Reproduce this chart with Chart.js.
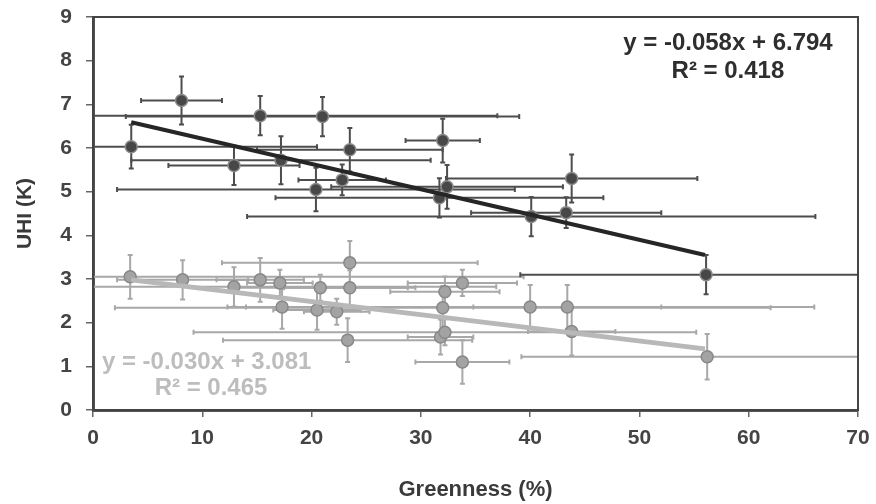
<!DOCTYPE html>
<html lang="en">
<head>
    <meta charset="UTF-8">
    <title>UHI vs Greenness</title>
    <script src="https://cdn.jsdelivr.net/npm/chart.js"></script>
    <style>
        body {
            margin: 0;
            background-color: #ffffff;
        }
        #wrap {
            width: 876px;
            height: 504px;
        }
    </style>
</head>
<body>
    <div id="wrap"><canvas id="uhiChart" width="876" height="504"></canvas></div>

    <script>
        // dark series (upper cluster)
        const darkX    = [3.5, 8.1, 15.3, 21.0, 12.9, 17.2, 23.5, 32.0, 32.4, 20.4, 22.8, 31.7, 43.8, 43.3, 40.1, 56.1];
        const darkY    = [6.03, 7.09, 6.74, 6.72, 5.60, 5.72, 5.96, 6.17, 5.11, 5.05, 5.27, 4.86, 5.30, 4.52, 4.43, 3.10];
        const darkXErr = [17, 3.7, 21.7, 18, 6, 13.7, 8.5, 3.4, 10.6, 18.2, 4, 15, 11.5, 8.7, 26, 17];
        const darkYErr = [0.5, 0.55, 0.45, 0.45, 0.45, 0.55, 0.5, 0.5, 0.5, 0.5, 0.35, 0.45, 0.55, 0.35, 0.45, 0.45];

        // light series (lower cluster)
        const lightX    = [3.4, 8.2, 12.9, 15.3, 17.1, 20.8, 23.5, 23.5, 33.8, 32.2, 17.3, 20.5, 22.3, 23.3, 32.0, 31.8, 32.2, 33.8, 40.0, 43.4, 43.8, 56.2];
        const lightY    = [3.05, 2.98, 2.82, 2.98, 2.91, 2.80, 3.37, 2.80, 2.91, 2.71, 2.36, 2.29, 2.25, 1.60, 2.34, 1.67, 1.78, 1.10, 2.36, 2.36, 1.80, 1.22];
        const lightXErr = [36, 6, 24, 4, 3, 8, 11.7, 6, 5, 5, 5, 4, 3, 11.4, 30, 3, 23, 4.3, 26, 8.6, 4, 17];
        const lightYErr = [0.5, 0.45, 0.45, 0.5, 0.3, 0.3, 0.5, 0.4, 0.3, 0.35, 0.5, 0.45, 0.3, 0.5, 0.5, 0.4, 0.3, 0.5, 0.5, 0.5, 0.55, 0.52];

        // trend lines
        const darkTrendX  = [3.5, 56];
        const darkTrendY  = [6.59, 3.55];
        const lightTrendX = [3.5, 56];
        const lightTrendY = [2.98, 1.40];

        const xTicks = [0, 10, 20, 30, 40, 50, 60, 70];
        const yTicks = [0, 1, 2, 3, 4, 5, 6, 7, 8, 9];

        // equation labels: text, x, y (data units)
        const darkLabels  = [['y = -0.058x + 6.794', 58.1, 8.39], ['R\u00b2 = 0.418', 58.1, 7.75]];
        const lightLabels = [['y = -0.030x + 3.081', 10.4, 1.10], ['R\u00b2 = 0.465', 10.8, 0.50]];

        const FONT = '"Liberation Sans", Arial, sans-serif';

        function toPoints(xs, ys) {
            return xs.map((x, i) => ({ x: x, y: ys[i] }));
        }

        // error bars drawn under the points, through the chart scales
        const errorBars = {
            id: 'errorBars',
            beforeDatasetsDraw(chart) {
                const { ctx, chartArea, scales } = chart;
                const xs = scales.x, ys = scales.y;
                ctx.save();
                ctx.beginPath();
                ctx.rect(chartArea.left, chartArea.top, chartArea.width, chartArea.height);
                ctx.clip();
                const draw = (X, Y, XE, YE, color) => {
                    ctx.strokeStyle = color;
                    ctx.lineWidth = 2;
                    X.forEach((x, i) => {
                        const px = xs.getPixelForValue(x);
                        const py = ys.getPixelForValue(Y[i]);
                        const x0 = xs.getPixelForValue(x - XE[i]);
                        const x1 = xs.getPixelForValue(x + XE[i]);
                        const y0 = ys.getPixelForValue(Y[i] - YE[i]);
                        const y1 = ys.getPixelForValue(Y[i] + YE[i]);
                        ctx.beginPath();
                        ctx.moveTo(x0, py); ctx.lineTo(x1, py);
                        ctx.moveTo(px, y0); ctx.lineTo(px, y1);
                        // little caps
                        ctx.moveTo(x0, py - 2.5); ctx.lineTo(x0, py + 2.5);
                        ctx.moveTo(x1, py - 2.5); ctx.lineTo(x1, py + 2.5);
                        ctx.moveTo(px - 2.5, y0); ctx.lineTo(px + 2.5, y0);
                        ctx.moveTo(px - 2.5, y1); ctx.lineTo(px + 2.5, y1);
                        ctx.stroke();
                    });
                };
                draw(lightX, lightY, lightXErr, lightYErr, '#a8a8a8');
                draw(darkX, darkY, darkXErr, darkYErr, '#4d4d4d');
                ctx.restore();
            },
            afterDatasetsDraw(chart) {
                const { ctx, chartArea, scales } = chart;
                // frame on top and right
                ctx.save();
                ctx.strokeStyle = '#444';
                ctx.lineWidth = 2;
                ctx.strokeRect(chartArea.left, chartArea.top, chartArea.width, chartArea.height);
                // equations
                ctx.font = 'bold 24px ' + FONT;
                ctx.textAlign = 'center';
                ctx.textBaseline = 'middle';
                ctx.fillStyle = '#2e2e2e';
                darkLabels.forEach(l => ctx.fillText(l[0], scales.x.getPixelForValue(l[1]), scales.y.getPixelForValue(l[2])));
                ctx.fillStyle = '#bdbdbd';
                lightLabels.forEach(l => ctx.fillText(l[0], scales.x.getPixelForValue(l[1]), scales.y.getPixelForValue(l[2])));
                ctx.restore();
            }
        };

        const ctx = document.getElementById('uhiChart').getContext('2d');
        new Chart(ctx, {
            type: 'scatter',
            data: {
                datasets: [
                    {
                        label: 'light',
                        data: toPoints(lightX, lightY),
                        pointRadius: 6,
                        pointBackgroundColor: '#a3a3a3',
                        pointBorderColor: '#888',
                        pointBorderWidth: 1.5,
                        order: 4
                    },
                    {
                        label: 'dark',
                        data: toPoints(darkX, darkY),
                        pointRadius: 6,
                        pointBackgroundColor: '#474747',
                        pointBorderColor: '#8a8a8a',
                        pointBorderWidth: 1.5,
                        order: 3
                    },
                    {
                        label: 'light trend',
                        data: toPoints(lightTrendX, lightTrendY),
                        showLine: true,
                        borderColor: '#b8b8b8',
                        borderWidth: 5,
                        pointRadius: 0,
                        order: 2
                    },
                    {
                        label: 'dark trend',
                        data: toPoints(darkTrendX, darkTrendY),
                        showLine: true,
                        borderColor: '#262626',
                        borderWidth: 4,
                        pointRadius: 0,
                        order: 1
                    }
                ]
            },
            options: {
                responsive: false,
                animation: false,
                devicePixelRatio: 1,
                layout: { autoPadding: false, padding: { left: 0, right: 18, top: 17, bottom: 0 } },
                plugins: {
                    legend: { display: false },
                    tooltip: { enabled: false }
                },
                scales: {
                    x: {
                        type: 'linear',
                        min: 0,
                        max: 70,
                        afterBuildTicks: s => { s.ticks = xTicks.map(v => ({ value: v })); },
                        afterFit: s => { s.height = 94; s.paddingLeft = 0; s.paddingRight = 0; },
                        grid: { drawOnChartArea: false, drawTicks: true, tickLength: 7, color: '#666', lineWidth: 1.5 },
                        border: { display: true, color: '#555', width: 3 },
                        ticks: { padding: 9, color: '#444', font: { family: FONT, size: 21, weight: 'bold' } },
                        title: {
                            display: true,
                            text: 'Greenness (%)',
                            color: '#3a3a3a',
                            padding: { top: 0, bottom: 1 },
                            font: { family: FONT, size: 22, weight: 'bold' }
                        }
                    },
                    y: {
                        type: 'linear',
                        min: 0,
                        max: 9,
                        afterBuildTicks: s => { s.ticks = yTicks.map(v => ({ value: v })); },
                        afterFit: s => { s.width = 93; s.paddingTop = 0; s.paddingBottom = 0; },
                        grid: { drawOnChartArea: false, drawTicks: true, tickLength: 7, color: '#666', lineWidth: 1.5 },
                        border: { display: true, color: '#555', width: 3 },
                        ticks: { padding: 14, color: '#444', font: { family: FONT, size: 21, weight: 'bold' } },
                        title: {
                            display: true,
                            text: 'UHI (K)',
                            color: '#3a3a3a',
                            padding: { top: 13, bottom: 0 },
                            font: { family: FONT, size: 21, weight: 'bold' }
                        }
                    }
                }
            },
            plugins: [errorBars]
        });
    </script>
</body>
</html>
